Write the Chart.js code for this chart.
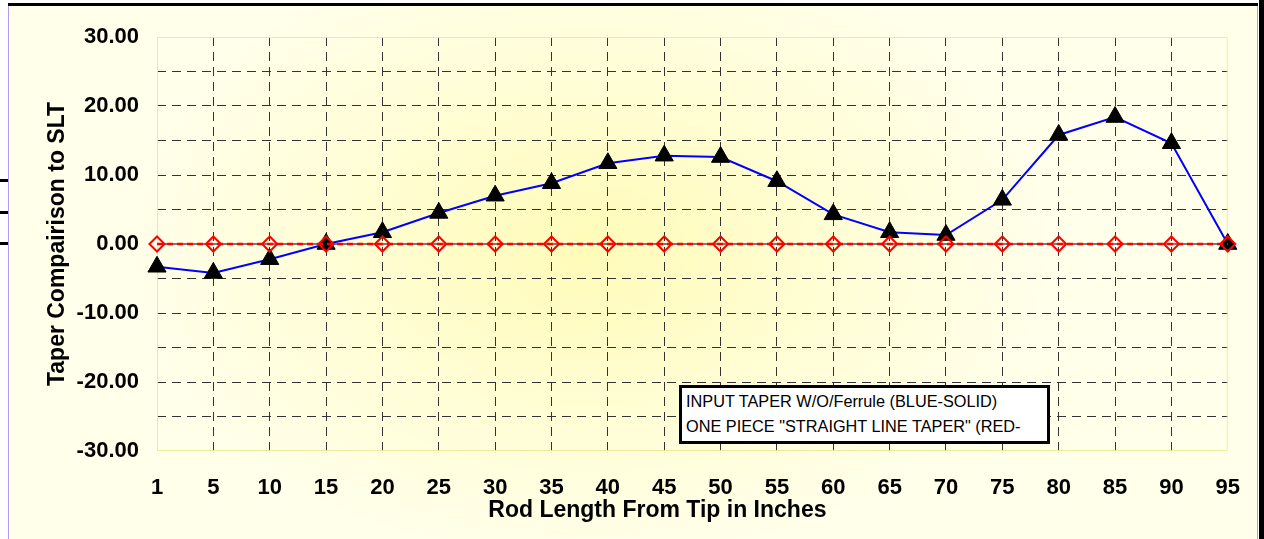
<!DOCTYPE html>
<html><head><meta charset="utf-8">
<script src="https://cdn.jsdelivr.net/npm/chart.js@4.4.1/dist/chart.umd.min.js"></script>
<style>
html,body{margin:0;padding:0;background:#fff;width:1264px;height:539px;overflow:hidden;}
#frame{position:absolute;left:8px;top:6px;width:1248px;height:533px;border-left:1px solid #b89ae8;border-right:1px solid #b89ae8;
  background:radial-gradient(ellipse 460px 310px at 580px 245px,#fffbb8 0%,#fffdd0 45%,#ffffea 100%);}
#topbar{position:absolute;left:8px;top:3px;width:1250px;height:3px;background:#000;}
#rightbar{position:absolute;left:1259px;top:0;width:5px;height:539px;background:#000;}
.ltick{position:absolute;left:0;width:8px;height:3px;background:#000;}
#wrap{position:absolute;left:0;top:0;width:1264px;height:539px;}
#legendBox{position:absolute;left:679px;top:385px;width:371px;height:59px;box-sizing:border-box;border:3px solid #000;background:#fff;
  overflow:hidden;font:16.3px "Liberation Sans",Arial,sans-serif;line-height:24.5px;padding:1px 4px 0 4px;color:#000;}
</style></head>
<body>
<div id="frame"></div>
<div id="topbar"></div>
<div id="rightbar"></div>
<div class="ltick" style="top:179px"></div>
<div class="ltick" style="top:211px"></div>
<div class="ltick" style="top:242px"></div>
<div id="wrap"><canvas id="c" width="1264" height="539"></canvas></div>
<div id="legendBox"></div>
<script>
const categories = ['1','5','10','15','20','25','30','35','40','45','50','55','60','65','70','75','80','85','90','95'];
const inputTaper = [-3.3,-4.2,-2.2,0,1.7,4.5,7.0,8.8,11.7,12.8,12.6,9.1,4.3,1.7,1.3,6.4,15.8,18.4,14.6,0];
const straightLineTaper = [0,0,0,0,0,0,0,0,0,0,0,0,0,0,0,0,0,0,0,0];
const seriesNames = ['INPUT TAPER W/O/Ferrule (BLUE-SOLID)', 'ONE PIECE "STRAIGHT LINE TAPER" (RED-ZERO)'];
const yTitle = 'Taper Compairison to SLT';
const xTitle = 'Rod Length From Tip in Inches';
const yMin = -30, yMax = 30, yStep = 5;

// HTML legend box built from series names
const lb = document.getElementById('legendBox');
seriesNames.forEach(n => { const d = document.createElement('div'); d.textContent = n; lb.appendChild(d); });

const FAM = '"Liberation Sans", Arial, sans-serif';
Chart.defaults.font.family = FAM;
Chart.defaults.color = '#000';

const decor = {
  id: 'decor',
  beforeDatasetsDraw(chart) {
    const {ctx, chartArea: a, scales: {y}} = chart;
    ctx.save();
    ctx.strokeStyle = 'rgba(235,235,150,0.9)';
    ctx.lineWidth = 1;
    ctx.strokeRect(a.left + 0.5, a.top + 0.5, a.width - 1, a.height - 1);
    const y0 = y.getPixelForValue(0);
    ctx.strokeStyle = '#7a7a7a';
    ctx.lineWidth = 2;
    ctx.beginPath(); ctx.moveTo(a.left, y0); ctx.lineTo(a.right, y0); ctx.stroke();
    ctx.restore();
  },
  afterDraw(chart) {
    const {ctx, chartArea: a} = chart;
    ctx.save();
    ctx.font = 'bold 23px ' + FAM;
    ctx.fillStyle = '#000';
    ctx.textAlign = 'center';
    ctx.textBaseline = 'middle';
    ctx.fillText(xTitle, (a.left + a.right) / 2 - 35, a.bottom + 60);
    ctx.restore();
  }
};

const gridCol = '#333';
new Chart(document.getElementById('c'), {
  type: 'line',
  data: {
    labels: categories,
    datasets: [
      { label: seriesNames[0], data: inputTaper, borderColor: '#0000ff', borderWidth: 2,
        pointStyle: 'triangle', pointRadius: 10.5, pointBackgroundColor: '#000', pointBorderColor: '#000',
        pointBorderWidth: 1, tension: 0, order: 2, fill: false },
      { label: seriesNames[1], data: straightLineTaper, borderColor: '#ff0000', borderWidth: 2.5, borderDash: [6, 4],
        pointStyle: 'rectRot', pointRadius: 7.5, pointBackgroundColor: 'rgba(0,0,0,0)', pointBorderColor: '#ff0000',
        pointBorderWidth: 2, tension: 0, order: 1, fill: false }
    ]
  },
  options: {
    responsive: false,
    animation: false,
    layout: { padding: { top: 37, right: 32, left: 0, bottom: 0 } },
    plugins: { legend: { display: false }, tooltip: { enabled: false } },
    scales: {
      x: {
        type: 'category', offset: false,
        grid: { offset: false, drawTicks: false, tickLength: 0, lineWidth: 1,
          color: c => (c.index === 0 || c.index === categories.length - 1) ? 'rgba(0,0,0,0)' : gridCol },
        border: { display: false, dash: [9, 6] },
        ticks: { autoSkip: false, maxRotation: 0, padding: 24, color: '#000', font: { size: 22, weight: 'bold' } },
        afterFit(s) { s.height = 88; }
      },
      y: {
        min: yMin, max: yMax,
        grid: { drawTicks: false, tickLength: 0, lineWidth: 1,
          color: c => (c.tick && (c.tick.value === 0 || Math.abs(c.tick.value) === 30)) ? 'rgba(0,0,0,0)' : gridCol },
        border: { display: false, dash: [9, 6] },
        ticks: { stepSize: yStep, autoSkip: false, padding: 18, color: '#000', font: { size: 22, weight: 'bold' },
          callback: v => (v % 10 === 0) ? v.toFixed(2) : '' },
        title: { display: true, text: yTitle, color: '#000', font: { size: 23, weight: 'bold' }, padding: { top: 44, bottom: 0 } },
        afterFit(s) { s.width = 157; }
      }
    }
  },
  plugins: [decor]
});
</script>
</body></html>
